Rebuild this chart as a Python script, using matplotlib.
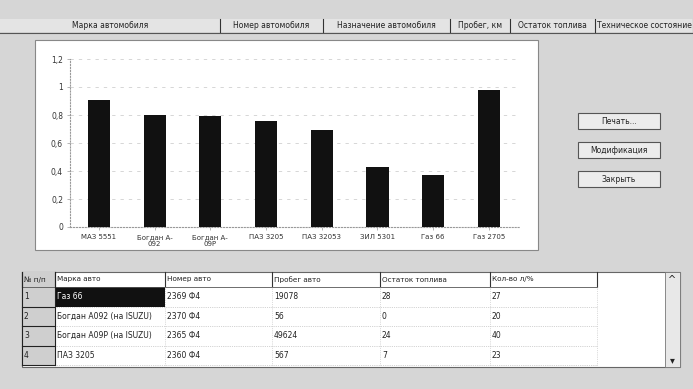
import numpy as np
import matplotlib.pyplot as plt
from matplotlib.patches import Rectangle

plt.rcParams['font.family'] = ['DejaVu Sans']

# bar chart data
cars = ['МАЗ 5551', 'Богдан А-\n092', 'Богдан А-\n09Р', 'ПАЗ 3205',
        'ПАЗ 32053', 'ЗИЛ 5301', 'Газ 66', 'Газ 2705']
values = [0.91, 0.80, 0.79, 0.76, 0.69, 0.43, 0.37, 0.98]
yticks = [0, 0.2, 0.4, 0.6, 0.8, 1.0, 1.2]
ytick_labels = ['0', '0,2', '0,4', '0,6', '0,8', '1', '1,2']

# header tabs: (text, left, right)
tabs = [('Марка автомобиля', 0, 220), ('Номер автомобиля', 220, 323),
        ('Назначение автомобиля', 323, 450), ('Пробег, км', 450, 510),
        ('Остаток топлива', 510, 595), ('Техническое состояние', 595, 693)]

buttons = ['Печать...', 'Модификация', 'Закрыть']

# grid below the chart
col_names = ['№ п/п', 'Марка авто', 'Номер авто', 'Пробег авто',
             'Остаток топлива', 'Кол-во л/%']
col_edges = [22, 55, 165, 272, 380, 490, 597]
rows = [['1', 'Газ 66', '2369 Ф4', '19078', '28', '27'],
        ['2', 'Богдан А092 (на ISUZU)', '2370 Ф4', '56', '0', '20'],
        ['3', 'Богдан А09Р (на ISUZU)', '2365 Ф4', '49624', '24', '40'],
        ['4', 'ПАЗ 3205', '2360 Ф4', '567', '7', '23']]

W, H = 693, 389
bg = '#d6d6d6'
fig = plt.figure(figsize=(W / 100, H / 100), dpi=100, facecolor=bg)

ui = fig.add_axes([0, 0, 1, 1], zorder=0)
ui.set_xlim(0, W)
ui.set_ylim(H, 0)
ui.axis('off')

# tabs
for text, x0, x1 in tabs:
    ui.add_patch(Rectangle((x0, 19), x1 - x0, 13, fc='#e4e4e4', ec='none'))
    ui.plot([x1, x1], [19, 32], color='#333333', lw=0.8)
    ui.text((x0 + x1) / 2, 25.5, text, ha='center', va='center',
            fontsize=5.5, color='#222222', clip_on=True)
ui.plot([0, W], [32.5, 32.5], color='#555555', lw=0.8)

# chart panel
ui.add_patch(Rectangle((35, 40), 503, 210, fc='white', ec='#888888', lw=0.8))

# buttons
for i, label in enumerate(buttons):
    y0 = 113 + i * 29
    ui.add_patch(Rectangle((578, y0), 82, 16, fc='#ececec', ec='#555555', lw=0.8))
    ui.text(619, y0 + 8, label, ha='center', va='center', fontsize=5.5, color='#222222')

# table
top, hdr_h, row_h = 272, 15, 19.5
n = len(rows)
bottom = top + hdr_h + n * row_h
ui.add_patch(Rectangle((col_edges[0], top), 658, bottom - top + 2,
                       fc='white', ec='#666666', lw=0.8))
ui.add_patch(Rectangle((col_edges[0], top), col_edges[1] - col_edges[0],
                       bottom - top, fc='#cfcfcf', ec='none'))
for j, name in enumerate(col_names):
    ui.text(col_edges[j] + 2, top + hdr_h / 2, name, ha='left', va='center',
            fontsize=5.2, color='#222222')
for x in col_edges:
    ui.plot([x, x], [top, top + hdr_h], color='#333333', lw=0.8)
ui.plot([col_edges[0], col_edges[-1]], [top + hdr_h, top + hdr_h], color='#555555', lw=0.6)
for i, row in enumerate(rows):
    y0 = top + hdr_h + i * row_h
    if i == 0:
        ui.add_patch(Rectangle((col_edges[1], y0), col_edges[2] - col_edges[1],
                               row_h, fc='#111111', ec='none'))
    for j, val in enumerate(row):
        color = 'white' if (i == 0 and j == 1) else '#222222'
        ui.text(col_edges[j] + 2, y0 + row_h / 2, val, ha='left', va='center',
                fontsize=5.5, color=color)
    ui.plot([col_edges[0], col_edges[1]], [y0 + row_h, y0 + row_h], color='#222222', lw=0.8)
    ui.plot([col_edges[1], col_edges[-1]], [y0 + row_h, y0 + row_h],
            color='#aaaaaa', lw=0.5, ls=':')
ui.plot([col_edges[1], col_edges[1]], [top, bottom], color='#222222', lw=0.8)
ui.plot([col_edges[0], col_edges[0]], [top, bottom], color='#222222', lw=0.8)
for x in col_edges[2:]:
    ui.plot([x, x], [top + hdr_h, bottom], color='#bbbbbb', lw=0.5, ls=':')

# scrollbar
ui.add_patch(Rectangle((665, top), 15, bottom - top + 2, fc='#e8e8e8', ec='#777777', lw=0.6))
ui.text(672.5, top + 8, '^', ha='center', va='center', fontsize=7, color='#222222')
ui.text(672.5, bottom - 5, '▾', ha='center', va='center', fontsize=7, color='#222222')

# bar chart
ax_left, ax_right, ax_top, ax_bot = 70, 520, 59, 227
ax = fig.add_axes([ax_left / W, 1 - ax_bot / H, (ax_right - ax_left) / W,
                   (ax_bot - ax_top) / H], zorder=2)
ax.set_facecolor('white')
x = np.arange(len(cars))
ax.bar(x, values, width=0.4, color='#111111', zorder=3)
ax.set_xlim(-0.52, 7.56)
ax.set_ylim(0, 1.2)
ax.set_yticks(yticks)
ax.set_yticklabels(ytick_labels, fontsize=5.5, color='#333333')
ax.set_xticks(x)
ax.set_xticklabels(cars, fontsize=5, color='#333333', linespacing=1.3)
ax.tick_params(length=2, width=0.5, color='#999999', pad=3)
for y in yticks[1:]:
    ax.axhline(y, color='#d0d0d0', lw=0.6, ls=(0, (4, 6)), zorder=1)
for side in ('top', 'right'):
    ax.spines[side].set_visible(False)
for side in ('left', 'bottom'):
    ax.spines[side].set_color('#999999')
    ax.spines[side].set_linestyle(':')
    ax.spines[side].set_linewidth(0.8)

fig.savefig('out.png', dpi=100, facecolor=bg)
